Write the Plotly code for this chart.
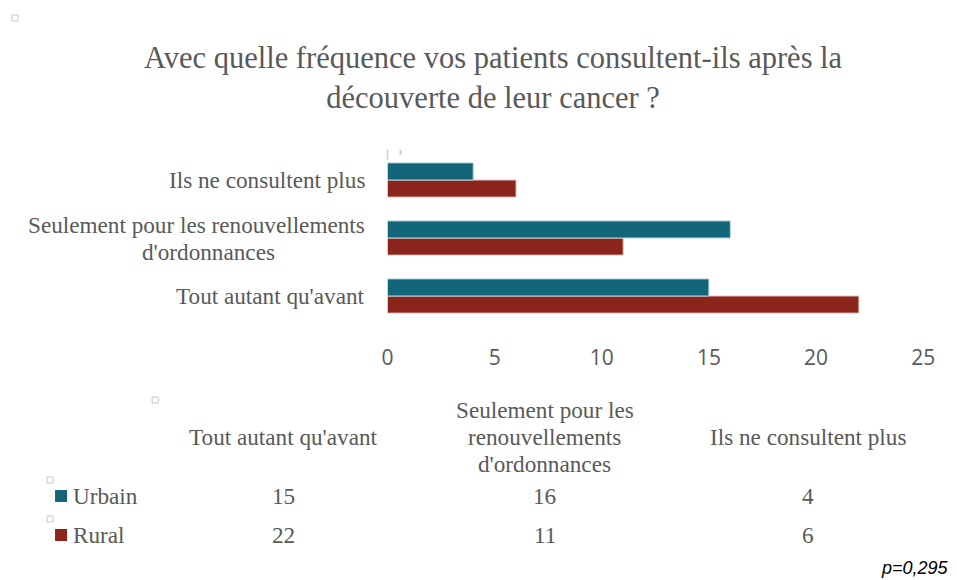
import plotly.graph_objects as go

# data, top-to-bottom order as in the chart
categories = ["Ils ne consultent plus",
              "Seulement pour les renouvellements d'ordonnances",
              "Tout autant qu'avant"]
label_bar = [["Ils ne consultent plus"],
             ["Seulement pour les renouvellements", "d'ordonnances"],
             ["Tout autant qu'avant"]]
label_table = [["Ils ne consultent plus"],
               ["Seulement pour les", "renouvellements", "d'ordonnances"],
               ["Tout autant qu'avant"]]
urbain = [4, 16, 15]
rural = [6, 11, 22]
x_ticks = [0, 5, 10, 15, 20, 25]

TEAL = "#13657A"
RED = "#8B251B"
GRAY = "#595959"
SERIF = "Garamond, 'Liberation Serif', serif"
SANS = "'Open Sans', 'DejaVu Sans', sans-serif"
FS = 23.2
LINE = 27

# screen -> figure mapping measured from earlier renders
OFF_X, SX, OFF_Y = 14, 0.98, 8
W, H = 962, 572


def px(x):
    return (x - OFF_X) / SX / W


def py(y):
    return 1 - (y - OFF_Y) / H


fig = go.Figure()
# rural first so urbain sits on top inside each group
fig.add_trace(go.Bar(y=categories, x=rural, orientation="h", name="Rural",
                     marker=dict(color=RED, line=dict(color="#e8c4c0", width=1))))
fig.add_trace(go.Bar(y=categories, x=urbain, orientation="h", name="Urbain",
                     marker=dict(color=TEAL, line=dict(color="#bcd6dd", width=1))))

ann = []
# category labels, one annotation per line
for cat, lines in zip(categories, label_bar):
    n = len(lines)
    for i, ln in enumerate(lines):
        a = dict(x=px(367), xref="paper", xanchor="right", y=cat, yref="y",
                 yshift=((n - 1) / 2 - i) * LINE, text=ln, showarrow=False,
                 font=dict(family=SERIF, size=FS, color=GRAY))
        if n > 1 and i > 0:
            # short second line sits centered under the first one
            a["xanchor"] = "center"
            a["x"] = px(208)
        ann.append(a)

# title
ann.append(dict(x=px(493), y=py(78), xref="paper", yref="paper",
                text="Avec quelle fréquence vos patients consultent-ils après la<br>découverte de leur cancer ?",
                showarrow=False, align="center", xanchor="center", yanchor="middle",
                font=dict(family=SERIF, size=30.5, color=GRAY)))

# data table underneath
col_x = [807, 544, 283]
for cx, lines, u, r in zip(col_x, label_table, urbain, rural):
    n = len(lines)
    for i, ln in enumerate(lines):
        ann.append(dict(x=px(cx), y=py(437 + (i - (n - 1) / 2) * LINE), xref="paper",
                        yref="paper", text=ln, showarrow=False,
                        xanchor="center", yanchor="middle",
                        font=dict(family=SERIF, size=FS, color=GRAY)))
    ann.append(dict(x=px(cx), y=py(496), xref="paper", yref="paper", text=str(u),
                    showarrow=False, xanchor="center", yanchor="middle",
                    font=dict(family=SERIF, size=FS, color=GRAY)))
    ann.append(dict(x=px(cx), y=py(535), xref="paper", yref="paper", text=str(r),
                    showarrow=False, xanchor="center", yanchor="middle",
                    font=dict(family=SERIF, size=FS, color=GRAY)))

shapes = []
for name, color, yy in [("Urbain", TEAL, 496), ("Rural", RED, 535)]:
    shapes.append(dict(type="rect", xref="paper", yref="paper",
                       x0=px(55), x1=px(67), y0=py(yy - 6), y1=py(yy + 6),
                       fillcolor=color, line=dict(width=0)))
    ann.append(dict(x=px(71), y=py(yy), xref="paper", yref="paper", text=name,
                    showarrow=False, xanchor="left", yanchor="middle",
                    font=dict(family=SERIF, size=FS, color=GRAY)))

# little selection handles / stray marks from the screenshot
for hx, hy in [(15, 18), (155, 400), (50, 480), (50, 519)]:
    shapes.append(dict(type="rect", xref="paper", yref="paper",
                       x0=px(hx - 3), x1=px(hx + 3), y0=py(hy - 3), y1=py(hy + 3),
                       fillcolor="white", line=dict(color="#c8c8c8", width=1)))
shapes.append(dict(type="line", xref="paper", yref="paper", x0=px(387), x1=px(387),
                   y0=py(150), y1=py(160), line=dict(color="#d0d0d0", width=1.5)))
shapes.append(dict(type="line", xref="paper", yref="paper", x0=px(400), x1=px(400),
                   y0=py(150), y1=py(155), line=dict(color="#d0d0d0", width=2)))

ann.append(dict(x=px(950), y=py(568), xref="paper", yref="paper", text="<i>p=0,295</i>",
                showarrow=False, xanchor="right", yanchor="middle",
                font=dict(family="Arial, 'Liberation Sans', sans-serif", size=18, color="black")))

fig.update_layout(
    width=W, height=H,
    margin=dict(l=0, r=0, t=0, b=0),
    paper_bgcolor="white", plot_bgcolor="white",
    showlegend=False,
    barmode="group", bargap=0.41, bargroupgap=0,
    annotations=ann, shapes=shapes,
    xaxis=dict(domain=[px(387), px(922)], range=[0, 25], tickvals=x_ticks,
               showgrid=False, zeroline=False, showline=False, ticks="",
               ticklabelstandoff=18,
               tickfont=dict(family=SANS, size=21, color=GRAY)),
    yaxis=dict(domain=[py(325), py(151)], categoryorder="array",
               categoryarray=categories[::-1], showticklabels=False,
               showgrid=False, zeroline=False, showline=False),
)

fig.write_html("out.html")
